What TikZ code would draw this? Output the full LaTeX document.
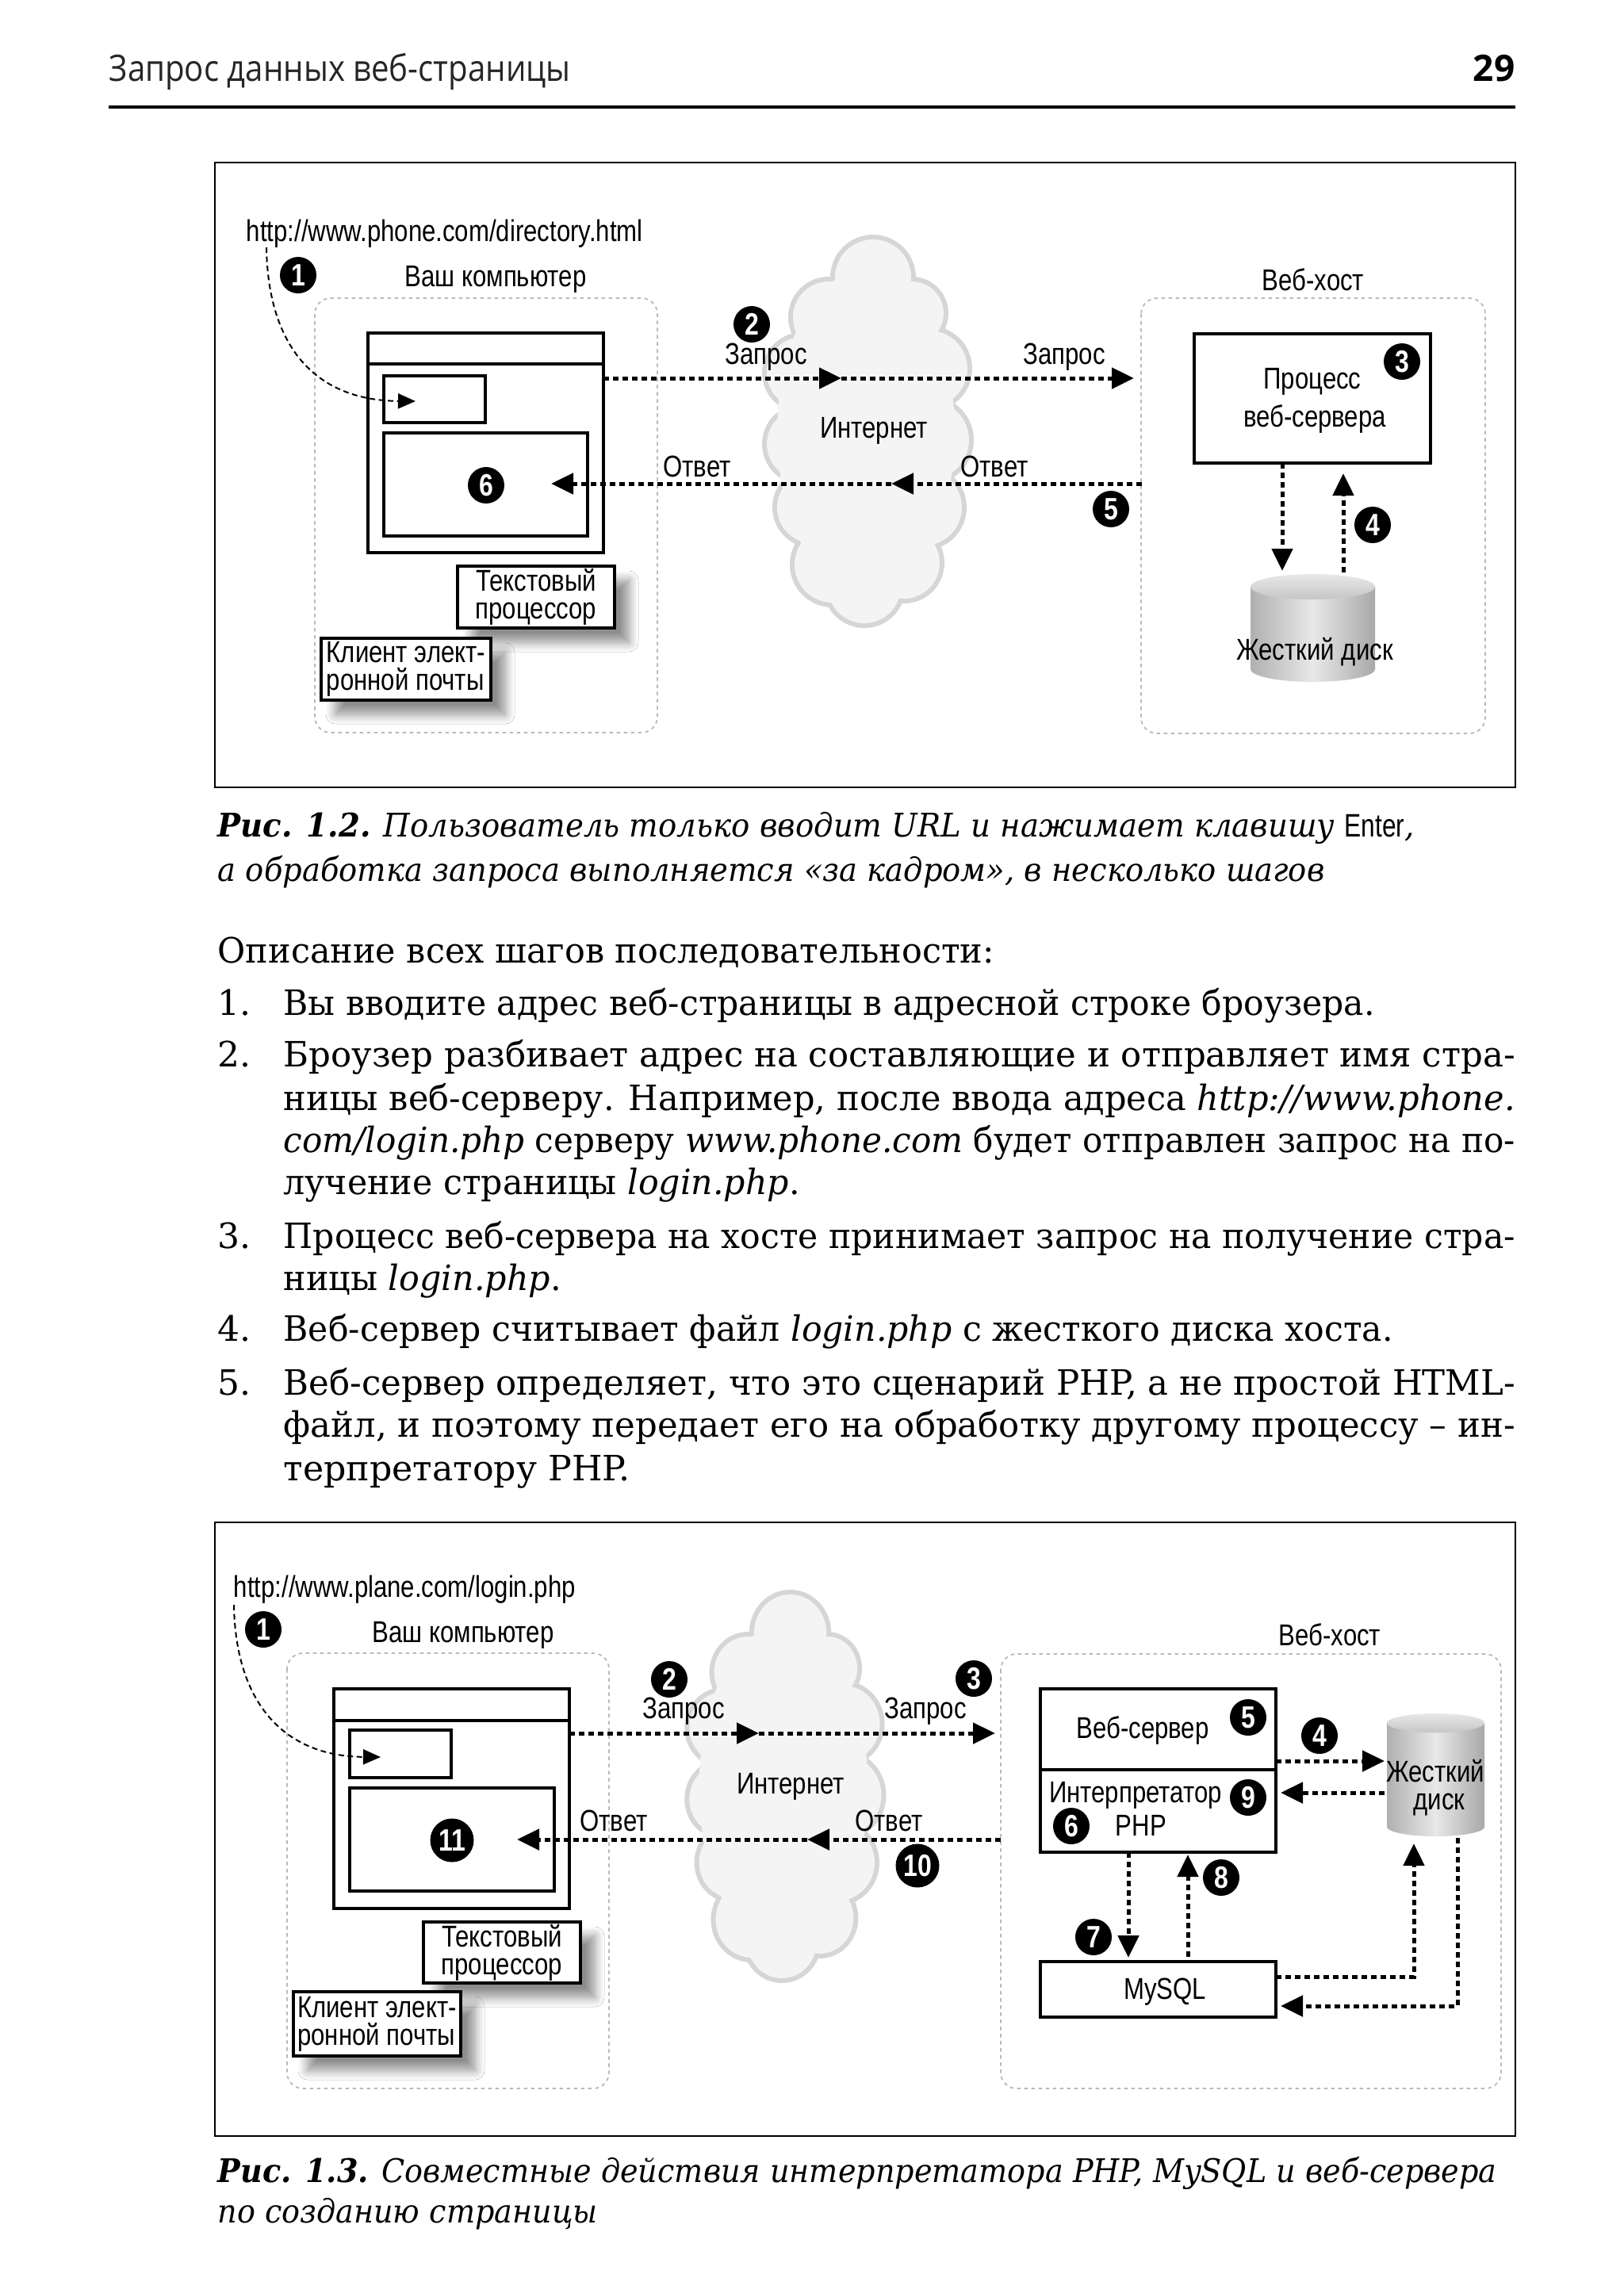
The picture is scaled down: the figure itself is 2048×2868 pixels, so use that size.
\documentclass[tikz,border=0pt]{standalone}
\usepackage{fontspec}
\usepackage{graphicx}
\setmainfont{DejaVu Serif}
\newfontfamily\labf[FakeStretch=0.82]{Liberation Sans}
\newfontfamily\hdrf{Open Sans}
\usetikzlibrary{arrows.meta,shadows.blur}
\newcommand\labfont{\labf\fontsize{3.8mm}{3.5mm}\selectfont}
\newcommand\badgefont{\labf\bfseries\fontsize{3.9mm}{3.9mm}\selectfont}
\newcommand\bodyfont{\fontsize{4.4mm}{5.3mm}\selectfont}
\newcommand\capfont{\fontsize{4.1mm}{5.5mm}\selectfont\itshape}
\newcommand\fitw[2]{\resizebox{#1}{\height}{#2}}
\newcommand\cloudlist{9/-195/48, -47/-145/45, 58/-150/40, -80/-75/45, 80/-80/48, -80/15/45, 80/10/50, -67/95/45, 73/95/48, -42/167/48, 48/165/45, -2/195/46}
\newcommand\drawcloud{%
  \foreach \cx/\cy/\r in \cloudlist {\draw[gray!32,line width=1.2mm] (\cx,\cy) circle[radius=\r];}
  \foreach \cx/\cy/\r in \cloudlist {\fill[gray!9] (\cx,\cy) circle[radius=\r];}
  \fill[gray!9] (0,0) ellipse[x radius=112,y radius=205];}
\newcommand\drum[5]{%
  \shade[left color=gray!62,right color=gray!68,middle color=gray!18] (#1,#3) ellipse[x radius=#4,y radius=#5];
  \shade[left color=gray!62,right color=gray!68,middle color=gray!18] (#1-#4,#2) rectangle (#1+#4,#3);
  \shade[top color=gray!18,bottom color=gray!45] (#1,#2) ellipse[x radius=#4,y radius=#5];}
\begin{document}
\begin{tikzpicture}[x=0.1mm,y=-0.1mm,
  frame/.style={draw=black,line width=0.25mm},
  zone/.style={draw=gray!55,line width=0.18mm,dash pattern=on 0.45mm off 0.45mm,rounded corners=2mm},
  rbox/.style={draw,line width=0.45mm,inner sep=0pt},
  tbox/.style={draw,line width=0.45mm,fill=white,inner sep=0pt,font=\labfont,
     blur shadow={shadow xshift=1.8mm,shadow yshift=-1.8mm,shadow opacity=45,shadow blur steps=10,shadow blur radius=1.2mm}},
  badge/.style={circle,fill=black,text=white,inner sep=0pt,minimum size=4.6mm,font=\badgefont},
  bigbadge/.style={badge,minimum size=5.5mm},
  lbl/.style={inner sep=0pt,font=\labfont},
  flow/.style={line width=0.5mm,dash pattern=on 0.7mm off 0.5mm,-{Triangle[length=2.8mm,width=2.6mm]}},
  urlarrow/.style={line width=0.2mm,dash pattern=on 0.7mm off 0.45mm,-{Triangle[length=2.2mm,width=1.9mm]}},
  btxt/.style={anchor=base west,inner sep=0pt,font=\bodyfont},
  ctxt/.style={anchor=base west,inner sep=0pt,font=\capfont}]
\useasboundingbox (0,0) rectangle (2048,2868);
\fill[white] (0,0) rectangle (2048,2868);

% ---------- header ----------
\node[anchor=base west,inner sep=0pt,font=\hdrf\fontsize{4.6mm}{5mm}\selectfont,text=black!85] (hd) at (137,102) {\fitw{58.2mm}{Запрос данных веб-страницы}};
\node[anchor=base east,inner sep=0pt,font=\hdrf\bfseries\fontsize{4.6mm}{5mm}\selectfont] (pg) at (1911,102) {29};
\draw[line width=0.35mm] (137,135) -- (1911,135);

% ================= Figure 1.2 =================
\draw[frame] (271,205) rectangle (1911,993);
\draw[zone] (397,376) rectangle (829,924);
\draw[zone] (1439,376) rectangle (1873,925);
\begin{scope}[shift={(1092,545)}]\drawcloud\end{scope}

\node[anchor=base west,inner sep=0pt,font=\labfont] (url1) at (310,304) {http://www.phone.com/directory.html};
\node[badge] (b1a) at (376,347) {1};
\node[lbl] (pc1) at (625,352) {Ваш компьютер};

% browser window
\node[rbox,minimum width=29.7mm,minimum height=27.7mm] (win1) at (612.5,558.5) {};
\draw[line width=0.45mm] (win1.north west |- 0,459) -- (win1.north east |- 0,459);
\node[rbox,line width=0.4mm,minimum width=12.8mm,minimum height=5.9mm] (adr1) at (548,503.5) {};
\node[rbox,line width=0.4mm,minimum width=25.7mm,minimum height=13mm] (cnt1) at (612.5,611) {};
\node[badge] (b6a) at (613,612) {6};

\node[tbox,minimum width=19.8mm,minimum height=7.8mm,align=center] (wp1) at (676,753) {Текстовый\\процессор};
\node[tbox,minimum width=21.4mm,minimum height=7.8mm,align=left] (mc1) at (512,844) {Клиент элект-\\ронной почты};

\coordinate (u1s) at (336,312);
\coordinate (u1e) at (524,506);
\draw[urlarrow] (u1s) .. controls (338,440) and (400,505) .. (u1e);

% internet
\node[lbl] (net1) at (1102,543) {Интернет};
\node[badge] (b2a) at (948,409) {2};
\node[lbl] (rq1a) at (966,450) {Запрос};
\node[lbl] (rq1b) at (1342,450) {Запрос};
\node[lbl] (rs1a) at (879,588) {Ответ};
\node[lbl] (rs1b) at (1254,588) {Ответ};
\node[badge] (b5a) at (1401,642) {5};

\coordinate (r1a) at (761,477);
\coordinate (r1m) at (1061,477);
\coordinate (r1b) at (1430,477);
\draw[flow] (r1a) -- (r1m);
\draw[flow] (r1m) -- (r1b);
\coordinate (s1a) at (1440,610);
\coordinate (s1m) at (1124,610);
\coordinate (s1b) at (695,610);
\draw[flow] (s1a) -- (s1m);
\draw[flow] (s1m) -- (s1b);

% web host
\node[lbl] (wh1) at (1656,353) {Веб-хост};
\node[rbox,minimum width=29.8mm,minimum height=16.3mm] (proc1) at (1655,502.5) {};
\node[lbl] (proc1a) at (1655,481) {Процесс};
\node[lbl] (proc1b) at (1658,528) {веб-сервера};
\node[badge] (b3a) at (1768,456) {3};
\drum{1655.5}{740}{844}{78.5}{16}
\node[lbl] (hd1) at (1658,822) {Жесткий диск};
\coordinate (d1a) at (1617,584);
\coordinate (d1b) at (1617,720);
\draw[flow] (d1a) -- (d1b);
\coordinate (v1a) at (1694,722);
\coordinate (v1b) at (1694,597);
\draw[flow] (v1a) -- (v1b);
\node[badge] (b4a) at (1731,662) {4};

% caption 1.2
\node[ctxt] (c1a) at (274,1055) {\fitw{150.9mm}{\textbf{Рис. 1.2.} Пользователь только вводит URL и нажимает клавишу {\upshape\labf Enter},}};
\node[ctxt] (c1b) at (274,1111) {\fitw{139.6mm}{а обработка запроса выполняется «за кадром», в несколько шагов}};

% ---------- body text ----------
\node[btxt] (t0) at (274,1214) {\fitw{97.9mm}{Описание всех шагов последовательности:}};
\node[btxt] (n1) at (274,1280) {1.};
\node[btxt] (t1) at (357,1280) {\fitw{137.6mm}{Вы вводите адрес веб-страницы в адресной строке броузера.}};
\node[btxt] (n2) at (274,1345) {2.};
\node[btxt] (t2a) at (357,1345) {\fitw{155.3mm}{Броузер разбивает адрес на составляющие и отправляет имя стра-}};
\node[btxt] (t2b) at (357,1400) {\fitw{155.3mm}{ницы веб-серверу. Например, после ввода адреса \textit{http://www.phone.}}};
\node[btxt] (t2c) at (357,1453) {\fitw{155.3mm}{\textit{com/login.php} серверу \textit{www.phone.com} будет отправлен запрос на по-}};
\node[btxt] (t2d) at (357,1506) {\fitw{65.1mm}{лучение страницы \textit{login.php}.}};
\node[btxt] (n3) at (274,1574) {3.};
\node[btxt] (t3a) at (357,1574) {\fitw{155.3mm}{Процесс веб-сервера на хосте принимает запрос на получение стра-}};
\node[btxt] (t3b) at (357,1627) {\fitw{35.0mm}{ницы \textit{login.php}.}};
\node[btxt] (n4) at (274,1691) {4.};
\node[btxt] (t4) at (357,1691) {\fitw{139.9mm}{Веб-сервер считывает файл \textit{login.php} с жесткого диска хоста.}};
\node[btxt] (n5) at (274,1759) {5.};
\node[btxt] (t5a) at (357,1759) {\fitw{155.3mm}{Веб-сервер определяет, что это сценарий PHP, а не простой HTML-}};
\node[btxt] (t5b) at (357,1812) {\fitw{155.3mm}{файл, и поэтому передает его на обработку другому процессу – ин-}};
\node[btxt] (t5c) at (357,1867) {\fitw{43.7mm}{терпретатору PHP.}};

% ================= Figure 1.3 =================
\draw[frame] (271,1920) rectangle (1911,2694);
\draw[zone] (362,2085) rectangle (768,2634);
\draw[zone] (1262,2086) rectangle (1893,2634);
\begin{scope}[shift={(988,2254)},xscale=0.95]\drawcloud\end{scope}

\node[anchor=base west,inner sep=0pt,font=\labfont] (url2) at (294,2014) {http://www.plane.com/login.php};
\node[badge] (b1b) at (332,2055) {1};
\node[lbl] (pc2) at (584,2062) {Ваш компьютер};

\node[rbox,minimum width=29.7mm,minimum height=27.7mm] (win2) at (569.5,2268.5) {};
\draw[line width=0.45mm] (win2.north west |- 0,2170) -- (win2.north east |- 0,2170);
\node[rbox,line width=0.4mm,minimum width=12.8mm,minimum height=6mm] (adr2) at (505,2212) {};
\node[rbox,line width=0.4mm,minimum width=25.8mm,minimum height=13mm] (cnt2) at (570,2320) {};
\node[bigbadge] (b11) at (570,2321) {11};

\node[tbox,minimum width=19.8mm,minimum height=7.7mm,align=center] (wp2) at (633,2462.5) {Текстовый\\процессор};
\node[tbox,minimum width=21.1mm,minimum height=8.1mm,align=left] (mc2) at (475.5,2552.5) {Клиент элект-\\ронной почты};

\coordinate (u2s) at (295,2024);
\coordinate (u2e) at (480,2216);
\draw[urlarrow] (u2s) .. controls (297,2150) and (360,2215) .. (u2e);

\node[lbl] (net2) at (997,2253) {Интернет};
\node[badge] (b2b) at (844,2118) {2};
\node[lbl] (rq2a) at (862,2158) {Запрос};
\node[badge] (b3b) at (1228,2117) {3};
\node[lbl] (rq2b) at (1167,2158) {Запрос};
\node[lbl] (rs2a) at (774,2296) {Ответ};
\node[lbl] (rs2b) at (1121,2296) {Ответ};
\node[bigbadge] (b10) at (1157,2353) {10};

\coordinate (r2a) at (718,2186);
\coordinate (r2m) at (957,2186);
\coordinate (r2b) at (1255,2186);
\draw[flow] (r2a) -- (r2m);
\draw[flow] (r2m) -- (r2b);
\coordinate (s2a) at (1262,2320);
\coordinate (s2m) at (1018,2320);
\coordinate (s2b) at (652,2320);
\draw[flow] (s2a) -- (s2m);
\draw[flow] (s2m) -- (s2b);

\node[lbl] (wh2) at (1677,2062) {Веб-хост};
\node[rbox,minimum width=29.7mm,minimum height=10.2mm] (ws) at (1460.5,2181) {};
\node[rbox,minimum width=29.7mm,minimum height=10.4mm] (php) at (1460.5,2284) {};
\node[lbl] (wsl) at (1441,2182) {Веб-сервер};
\node[lbl] (phpl1) at (1432,2264) {Интерпретатор};
\node[lbl] (phpl2) at (1439,2302) {PHP};
\node[badge] (b5b) at (1574,2166) {5};
\node[badge] (b9b) at (1574,2267) {9};
\node[badge] (b6b) at (1351,2303) {6};

\drum{1810.5}{2173}{2304}{61.5}{12}
\node[lbl] (hd2a) at (1810,2234) {Жесткий};
\node[lbl] (hd2b) at (1815,2276) {диск};

\node[rbox,minimum width=29.7mm,minimum height=7mm] (sql) at (1460.5,2509) {};
\node[lbl] (sqll) at (1469,2512) {MySQL};

\coordinate (a4a) at (1609,2221);
\coordinate (a4b) at (1746,2221);
\draw[flow] (a4a) -- (a4b);
\node[badge] (b4b) at (1664,2189) {4};
\coordinate (a9a) at (1746,2261);
\coordinate (a9b) at (1615,2261);
\draw[flow] (a9a) -- (a9b);
\coordinate (a7a) at (1423,2336);
\coordinate (a7b) at (1423,2469);
\draw[flow] (a7a) -- (a7b);
\node[badge] (b7b) at (1379,2443) {7};
\coordinate (a8a) at (1498,2468);
\coordinate (a8b) at (1498,2339);
\draw[flow] (a8a) -- (a8b);
\node[badge] (b8b) at (1540,2368) {8};
\coordinate (m1a) at (1609,2493);
\coordinate (m1k) at (1783,2493);
\coordinate (m1b) at (1783,2325);
\draw[flow] (m1a) -- (m1k) -- (m1b);
\coordinate (m2a) at (1838,2318);
\coordinate (m2k) at (1838,2530);
\coordinate (m2b) at (1615,2530);
\draw[flow] (m2a) -- (m2k) -- (m2b);

% caption 1.3
\node[ctxt] (c2a) at (274,2752) {\fitw{161.3mm}{\textbf{Рис. 1.3.} Совместные действия интерпретатора PHP, MySQL и веб-сервера}};
\node[ctxt] (c2b) at (274,2803) {\fitw{47.9mm}{по созданию страницы}};
\end{tikzpicture}
\end{document}
